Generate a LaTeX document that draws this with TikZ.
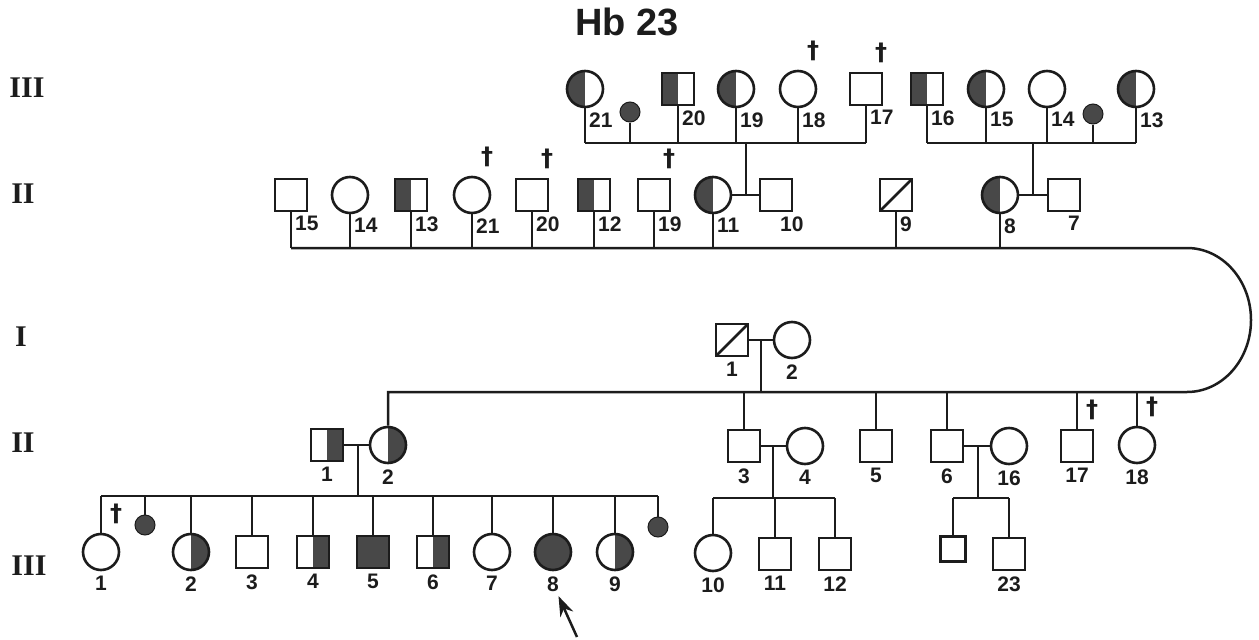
\documentclass[tikz,border=0pt]{standalone}
\usepackage{fontspec}
\setsansfont{Liberation Sans}
\newfontfamily\genfont{Liberation Serif}
\newfontfamily\dagfont{DejaVu Sans}
\usetikzlibrary{positioning,arrows.meta}
\definecolor{pdaff}{RGB}{72,72,72}
\definecolor{pdline}{RGB}{28,28,28}
\tikzset{
  pd/.style={line width=2.6pt, draw=pdline, fill=white, inner sep=0pt},
  pdm/.style={pd, rectangle, minimum size=32pt},
  pdf/.style={pd, circle, minimum size=36pt},
  pdlh/.style={path picture={\fill[pdaff] (path picture bounding box.south west) rectangle (path picture bounding box.north);}},
  pdrh/.style={path picture={\fill[pdaff] (path picture bounding box.south) rectangle (path picture bounding box.north east);}},
  pdfull/.style={fill=pdaff},
  pdsl/.style={path picture={\draw[line width=2.6pt, pdline] (path picture bounding box.south west) -- (path picture bounding box.north east);}},
  pdab/.style={circle, draw=pdline, fill=pdaff, line width=1pt, minimum size=20pt, inner sep=0pt},
  pdnum/.style={font=\sffamily\bfseries\fontsize{21}{21}\selectfont, text=pdline, inner sep=0pt},
  pddag/.style={font=\dagfont\bfseries\fontsize{24}{24}\selectfont, text=pdline, inner sep=0pt},
  pdgen/.style={font=\genfont\bfseries\fontsize{30}{30}\selectfont, text=pdline},
  pdttl/.style={font=\sffamily\bfseries\fontsize{38}{38}\selectfont, text=pdline},
  pdln/.style={line width=2.5pt, draw=pdline},
  pdarr/.style={pdln, -{Stealth[length=20pt,width=14pt]}, shorten >=5pt},
}

\begin{document}
\begin{tikzpicture}[x=1pt, y=-1pt]
  \useasboundingbox (0,0) rectangle (1259,640);

  % title and generations
  \node[pdttl] (ttl) at (627,22) {Hb 23};
  \node[pdgen] (g3a) at (27,88) {III};
  \node[pdgen] (g2a) at (23,194) {II};
  \node[pdgen] (g1) at (21,337) {I};
  \node[pdgen] (g2b) at (23,443) {II};
  \node[pdgen] (g3b) at (29,566) {III};

  % III, upper
  \node[pdf, pdlh] (t21) at (585,89) {};
  \node[pdab] (tab1) at (630,112) {};
  \node[pdm, pdlh] (t20) at (678,89) {};
  \node[pdf, pdlh] (t19) at (736,89) {};
  \node[pdf] (t18) at (798,89) {};
  \node[pdm] (t17) at (866,89) {};
  \node[pdm, pdlh] (t16) at (927,89) {};
  \node[pdf, pdlh] (t15) at (986,89) {};
  \node[pdf] (t14) at (1047,89) {};
  \node[pdab] (tab2) at (1093,114) {};
  \node[pdf, pdlh] (t13) at (1136,89) {};

  % II, upper
  \node[pdm] (u15) at (291,195) {};
  \node[pdf] (u14) at (350,195) {};
  \node[pdm, pdlh] (u13) at (411,195) {};
  \node[pdf] (u21) at (472,195) {};
  \node[pdm] (u20) at (532,195) {};
  \node[pdm, pdlh] (u12) at (594,195) {};
  \node[pdm] (u19) at (654,195) {};
  \node[pdf, pdlh] (u11) at (713,195) {};
  \node[pdm] (u10) at (776,195) {};
  \node[pdm, pdsl] (u9) at (896,195) {};
  \node[pdf, pdlh] (u8) at (1000,195) {};
  \node[pdm] (u7) at (1064,195) {};

  % I
  \node[pdm, pdsl] (i1) at (732,340) {};
  \node[pdf] (i2) at (792,340) {};

  % II, lower
  \node[pdm, pdrh] (l1) at (327,445) {};
  \node[pdf, pdrh] (l2) at (388,445) {};
  \node[pdm] (l3) at (744,446) {};
  \node[pdf] (l4) at (805,446) {};
  \node[pdm] (l5) at (876,446) {};
  \node[pdm] (l6) at (947,446) {};
  \node[pdf] (l16) at (1009,446) {};
  \node[pdm] (l17) at (1077,446) {};
  \node[pdf] (l18) at (1137,445) {};

  % III, lower
  \node[pdf] (b1) at (101,552) {};
  \node[pdab] (ab3) at (145,525) {};
  \node[pdf, pdrh] (b2) at (191,552) {};
  \node[pdm] (b3) at (252,552) {};
  \node[pdm, pdrh] (b4) at (313,552) {};
  \node[pdm, pdfull] (b5) at (373,552) {};
  \node[pdm, pdrh] (b6) at (433,552) {};
  \node[pdf] (b7) at (492,552) {};
  \node[pdf, pdfull] (b8) at (553,552) {};
  \node[pdf, pdrh] (b9) at (615,552) {};
  \node[pdab] (ab4) at (658,527) {};
  \node[pdf] (b10) at (713,553) {};
  \node[pdm] (b11) at (775,554) {};
  \node[pdm] (b12) at (835,554) {};
  \node[pdm, minimum size=25pt] (bs) at (953,549) {};
  \node[pdm] (b23) at (1009,554) {};

  % numbers
  \foreach \n/\t in {t21/21,t20/20,t19/19,t18/18,t17/17,t16/16,t15/15,t14/14,t13/13,
      u15/15,u14/14,u13/13,u21/21,u20/20,u12/12,u19/19,u11/11,u10/10,u9/9,u8/8,u7/7}
    \node[pdnum, anchor=north west] (n\n) at ([xshift=4pt,yshift=-4pt]\n.south) {\t};
  \foreach \n/\t in {i1/1,i2/2,l1/1,l2/2,l3/3,l4/4,l5/5,l6/6,l16/16,l17/17,l18/18,
      b1/1,b2/2,b3/3,b4/4,b5/5,b6/6,b7/7,b8/8,b9/9,b10/10,b11/11,b12/12,b23/23}
    \node[pdnum, below=5pt of \n] (n\n) {\t};
  \foreach \n in {t18,t17,u21,u20,u19,l17,l18,b1}
    \node[pddag] (d\n) at ([xshift=15pt,yshift=19pt]\n.north) {†};

  % sibships and couples
  \coordinate (sA) at (746,143);
  \coordinate (sA2) at (1033,143);
  \coordinate (sB) at (1187,248);
  \coordinate (sI) at (761,392);
  \coordinate (sL) at (358,496);
  \coordinate (sM) at (773,498);
  \coordinate (sN) at (978,498);

  \draw[pdln] (t21 |- sA) -- (t17 |- sA);
  \foreach \n in {t21,tab1,t20,t19,t18,t17}
    \draw[pdln] (\n) -- (\n |- sA);
  \draw[pdln] (t16 |- sA2) -- (t13 |- sA2);
  \foreach \n in {t16,t15,t14,tab2,t13}
    \draw[pdln] (\n) -- (\n |- sA2);

  \draw[pdln] (u11) -- (u10);
  \draw[pdln] (sA) -- (sA |- u11);
  \draw[pdln] (u8) -- (u7);
  \draw[pdln] (sA2) -- (sA2 |- u8);

  \draw[pdln] (u15 |- sB) -- (sB)
    arc[start angle=90, end angle=-90, x radius=64pt, y radius=72pt]
    -- (l2 |- sI) -- (l2);
  \foreach \n in {u15,u14,u13,u21,u20,u12,u19,u11,u9,u8}
    \draw[pdln] (\n) -- (\n |- sB);

  \draw[pdln] (i1) -- (i2);
  \draw[pdln] (sI |- i1) -- (sI);
  \foreach \n in {l3,l5,l6,l17,l18}
    \draw[pdln] (\n) -- (\n |- sI);

  \draw[pdln] (l1) -- (l2);
  \draw[pdln] (sL |- l1) -- (sL);
  \draw[pdln] (b1 |- sL) -- (ab4 |- sL);
  \foreach \n in {b1,ab3,b2,b3,b4,b5,b6,b7,b8,b9,ab4}
    \draw[pdln] (\n) -- (\n |- sL);

  \draw[pdln] (l3) -- (l4);
  \draw[pdln] (sM |- l3) -- (sM);
  \draw[pdln] (b10 |- sM) -- (b12 |- sM);
  \foreach \n in {b10,b11,b12}
    \draw[pdln] (\n) -- (\n |- sM);

  \draw[pdln] (l6) -- (l16);
  \draw[pdln] (sN |- l6) -- (sN);
  \draw[pdln] (bs |- sN) -- (b23 |- sN);
  \foreach \n in {bs,b23}
    \draw[pdln] (\n) -- (\n |- sN);

  % proband
  \coordinate (pa) at (577,637);
  \draw[pdarr] (pa) -- (nb8);
\end{tikzpicture}
\end{document}
